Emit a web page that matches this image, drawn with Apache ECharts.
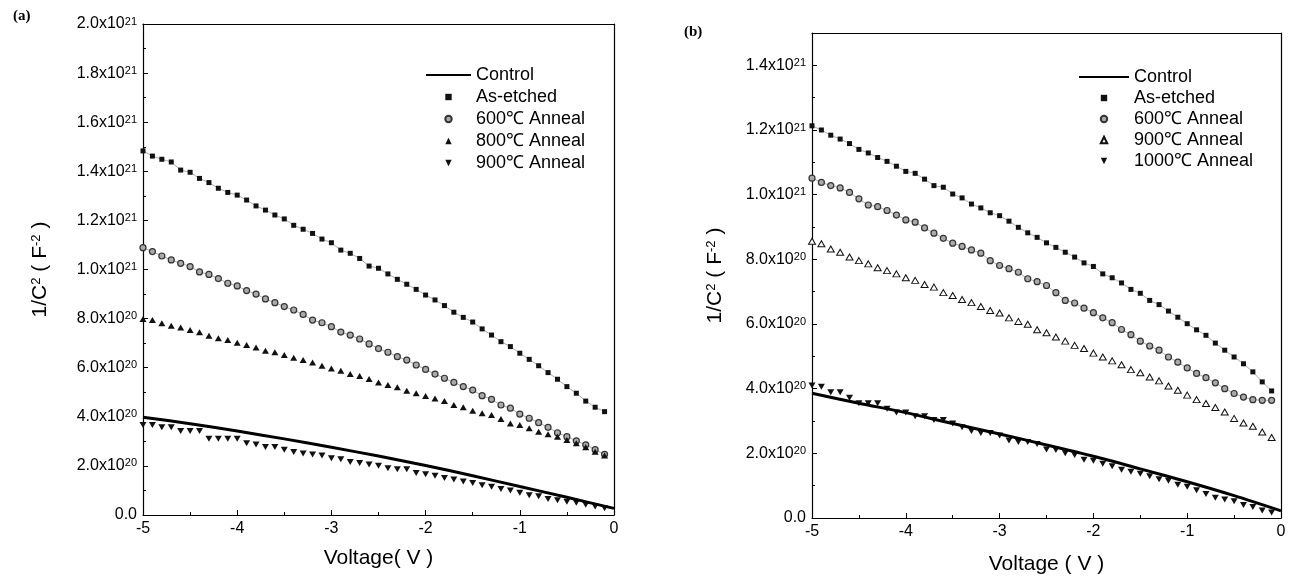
<!DOCTYPE html>
<html>
<head>
<meta charset="utf-8">
<script src="https://cdn.jsdelivr.net/npm/echarts@6/dist/echarts.min.js"></script>
<style>
  html, body { margin: 0; background: #fff; }
  #chart { width: 1290px; height: 580px; }
</style>
</head>
<body>
<div id="chart"></div>
<script>
const FONT = '"Liberation Sans", Arial, sans-serif';

// bias voltage of the measured points (V)
const voltage = [-5.0, -4.9, -4.8, -4.7, -4.6, -4.5, -4.4, -4.3, -4.2, -4.1,
  -4.0, -3.9, -3.8, -3.7, -3.6, -3.5, -3.4, -3.3, -3.2, -3.1,
  -3.0, -2.9, -2.8, -2.7, -2.6, -2.5, -2.4, -2.3, -2.2, -2.1,
  -2.0, -1.9, -1.8, -1.7, -1.6, -1.5, -1.4, -1.3, -1.2, -1.1,
  -1.0, -0.9, -0.8, -0.7, -0.6, -0.5, -0.4, -0.3, -0.2, -0.1];
// voltage of the control curve points (V)
const controlVoltage = [-5.0, -4.5, -4.0, -3.5, -3.0, -2.5, -2.0, -1.5, -1.0, -0.5, 0.0];

// all 1/C^2 values in units of 1e20 F^-2
// panel (a)
const aControl = [3.98, 3.72, 3.42, 3.10, 2.76, 2.40, 2.02, 1.60, 1.16, 0.72, 0.27];
const aAsEtched = [14.83, 14.62, 14.49, 14.38, 14.05, 13.96, 13.71, 13.54, 13.31, 13.14,
  13.03, 12.83, 12.59, 12.42, 12.22, 12.06, 11.80, 11.64, 11.47, 11.24,
  11.09, 10.79, 10.66, 10.45, 10.14, 10.05, 9.82, 9.60, 9.40, 9.19,
  8.96, 8.76, 8.53, 8.26, 8.05, 7.86, 7.58, 7.33, 7.06, 6.86,
  6.59, 6.34, 6.08, 5.80, 5.53, 5.23, 4.96, 4.64, 4.39, 4.21];
const a600 = [10.89, 10.73, 10.55, 10.39, 10.25, 10.12, 9.90, 9.80, 9.63, 9.44,
  9.33, 9.14, 9.00, 8.80, 8.65, 8.49, 8.35, 8.17, 7.94, 7.83,
  7.67, 7.45, 7.33, 7.17, 6.97, 6.78, 6.63, 6.45, 6.31, 6.11,
  5.93, 5.74, 5.57, 5.40, 5.23, 5.09, 4.86, 4.71, 4.48, 4.35,
  4.11, 3.94, 3.76, 3.57, 3.35, 3.19, 3.02, 2.86, 2.66, 2.47];
const a800 = [7.98, 7.94, 7.81, 7.71, 7.64, 7.54, 7.44, 7.30, 7.20, 7.13,
  7.02, 6.92, 6.82, 6.69, 6.63, 6.52, 6.41, 6.31, 6.21, 6.08,
  5.97, 5.88, 5.74, 5.66, 5.54, 5.40, 5.30, 5.20, 5.06, 4.96,
  4.85, 4.75, 4.64, 4.48, 4.39, 4.25, 4.14, 4.07, 3.91, 3.73,
  3.67, 3.53, 3.39, 3.29, 3.19, 3.06, 2.92, 2.76, 2.58, 2.42];
const a900 = [3.67, 3.67, 3.57, 3.57, 3.42, 3.42, 3.42, 3.11, 3.11, 3.11,
  3.11, 2.92, 2.87, 2.77, 2.77, 2.66, 2.57, 2.51, 2.46, 2.42,
  2.31, 2.27, 2.16, 2.12, 2.06, 2.01, 1.90, 1.86, 1.86, 1.71,
  1.66, 1.60, 1.51, 1.45, 1.36, 1.30, 1.21, 1.15, 1.06, 1.00,
  0.91, 0.80, 0.76, 0.65, 0.60, 0.54, 0.50, 0.42, 0.35, 0.27];

// panel (b)
const bControl = [3.86, 3.55, 3.26, 2.92, 2.60, 2.26, 1.91, 1.52, 1.12, 0.69, 0.22];
const bAsEtched = [12.13, 12.00, 11.84, 11.72, 11.58, 11.40, 11.29, 11.15, 11.03, 10.88,
  10.72, 10.66, 10.48, 10.28, 10.23, 10.02, 9.90, 9.71, 9.59, 9.44,
  9.35, 9.18, 8.99, 8.82, 8.68, 8.51, 8.37, 8.22, 8.07, 7.89,
  7.78, 7.55, 7.43, 7.27, 7.07, 6.95, 6.73, 6.60, 6.40, 6.21,
  6.01, 5.82, 5.65, 5.41, 5.19, 4.98, 4.77, 4.52, 4.21, 3.93];
const b600 = [10.51, 10.38, 10.28, 10.21, 10.07, 9.87, 9.68, 9.63, 9.51, 9.37,
  9.22, 9.15, 8.97, 8.81, 8.65, 8.50, 8.40, 8.29, 8.19, 7.96,
  7.81, 7.71, 7.60, 7.40, 7.31, 7.19, 6.97, 6.73, 6.65, 6.49,
  6.35, 6.19, 6.04, 5.83, 5.67, 5.47, 5.32, 5.19, 4.98, 4.82,
  4.64, 4.47, 4.34, 4.18, 4.00, 3.85, 3.74, 3.66, 3.64, 3.64];
const b900 = [8.56, 8.48, 8.32, 8.22, 8.07, 7.96, 7.86, 7.74, 7.65, 7.55,
  7.43, 7.35, 7.22, 7.14, 6.97, 6.88, 6.76, 6.66, 6.54, 6.42,
  6.34, 6.19, 6.08, 5.99, 5.82, 5.73, 5.60, 5.47, 5.34, 5.24,
  5.10, 4.98, 4.86, 4.74, 4.59, 4.49, 4.36, 4.24, 4.08, 3.95,
  3.80, 3.66, 3.54, 3.42, 3.28, 3.08, 2.94, 2.84, 2.66, 2.49];
const b1000 = [4.10, 4.06, 3.89, 3.89, 3.72, 3.55, 3.55, 3.55, 3.38, 3.26,
  3.26, 3.15, 3.15, 3.03, 3.03, 2.92, 2.81, 2.69, 2.63, 2.63,
  2.55, 2.40, 2.35, 2.35, 2.29, 2.12, 2.10, 2.00, 1.95, 1.80,
  1.77, 1.68, 1.60, 1.49, 1.43, 1.37, 1.29, 1.20, 1.15, 1.03,
  0.97, 0.86, 0.74, 0.63, 0.57, 0.52, 0.40, 0.34, 0.23, 0.17];

const pair = (xs, ys) => xs.map((x, i) => [x, ys[i]]);

function yLabel(v) {
  if (v === 0) return '0.0';
  if (v >= 10) return (v / 10).toFixed(1) + 'x10{sup|21}';
  return v.toFixed(1) + 'x10{sup|20}';
}

const supRich = { sup: { fontSize: 11, fontFamily: FONT, color: '#000', verticalAlign: 'top' } };

function xAxisFor(idx, gap, name) {
  return {
    type: 'value', gridIndex: idx, position: 'bottom', min: -5, max: 0, interval: 1,
    name: name, nameLocation: 'middle', nameGap: gap,
    nameTextStyle: { fontFamily: FONT, fontSize: 21, color: '#000' },
    axisLine: { onZero: false, lineStyle: { color: '#000', width: 1.2 } },
    axisTick: { inside: true, length: 5, lineStyle: { color: '#000' } },
    minorTick: { show: true, splitNumber: 2, length: 3, lineStyle: { color: '#000' } },
    splitLine: { show: false },
    axisLabel: { fontFamily: FONT, fontSize: 16, color: '#000', margin: 6, formatter: v => String(v) }
  };
}

function yAxisFor(idx, max, gap) {
  return {
    type: 'value', gridIndex: idx, position: 'left', min: 0, max: max, interval: 2,
    name: '1/C{sup|2} ( F{sup|-2} )', nameLocation: 'middle', nameRotate: 90, nameGap: gap,
    nameTextStyle: { fontFamily: FONT, fontSize: 21, color: '#000',
      rich: { sup: { fontSize: 13, fontFamily: FONT, color: '#000', verticalAlign: 'top' } } },
    axisLine: { onZero: false, lineStyle: { color: '#000', width: 1.2 } },
    axisTick: { inside: true, length: 5, lineStyle: { color: '#000' } },
    minorTick: { show: true, splitNumber: 2, length: 3, lineStyle: { color: '#000' } },
    splitLine: { show: false },
    axisLabel: { fontFamily: FONT, fontSize: 16, color: '#000', margin: 6,
      showMaxLabel: max === 20, formatter: yLabel, rich: supRich }
  };
}

// plain frame lines on the top and right of each panel
function frameX(idx) {
  return { type: 'value', gridIndex: idx, position: 'top', min: -5, max: 0,
    axisLine: { onZero: false, lineStyle: { color: '#000', width: 1.2 } },
    axisTick: { show: false }, axisLabel: { show: false }, splitLine: { show: false } };
}
function frameY(idx, max) {
  return { type: 'value', gridIndex: idx, position: 'right', min: 0, max: max,
    axisLine: { show: true, onZero: false, lineStyle: { color: '#000', width: 1.2 } },
    axisTick: { show: false }, axisLabel: { show: false }, splitLine: { show: false } };
}

function markerSeries(name, axis, data, symbol, size, style, thinLine) {
  return {
    name: name, type: 'line', xAxisIndex: axis, yAxisIndex: axis,
    data: data, symbol: symbol, symbolSize: size, showSymbol: true,
    symbolRotate: style.down ? 180 : 0,
    itemStyle: style.item,
    lineStyle: thinLine ? { color: '#888', width: 0.7 } : { width: 0, opacity: 0 },
    clip: false, silent: true, z: 3
  };
}

const filled = { item: { color: '#111' } };
const grayCircle = { item: { color: '#aaa', borderColor: '#333', borderWidth: 1.2 } };
const downFilled = { item: { color: '#111' }, down: true };
const openTri = { item: { color: '#fff', borderColor: '#111', borderWidth: 1 } };

function controlSeries(name, axis, data) {
  return {
    name: name, type: 'line', xAxisIndex: axis, yAxisIndex: axis, data: data,
    symbol: 'none', smooth: 0.3, lineStyle: { color: '#000', width: 3 },
    itemStyle: { color: '#000' }, clip: false, silent: true, z: 4
  };
}

function legendFor(prefix, names, left, top, gap, width) {
  return {
    orient: 'vertical', left: left, top: top, itemWidth: width, itemHeight: 8, itemGap: gap,
    selectedMode: false,
    data: names.map((n, i) => i === 0
      ? { name: prefix + n, itemStyle: { opacity: 0 } }
      : { name: prefix + n, lineStyle: { opacity: 0 } }),
    formatter: n => n.slice(2),
    textStyle: { fontFamily: FONT, fontSize: 18, color: '#000' }
  };
}

const chart = echarts.init(document.getElementById('chart'), null, { renderer: 'canvas' });
chart.setOption({
  animation: false,
  backgroundColor: '#fff',
  title: [
    { text: '(a)', left: 8, top: 4, textStyle: { fontFamily: '"Liberation Serif", serif', fontWeight: 'bold', fontSize: 15, color: '#000' } },
    { text: '(b)', left: 679, top: 20, textStyle: { fontFamily: '"Liberation Serif", serif', fontWeight: 'bold', fontSize: 15, color: '#000' } }
  ],
  grid: [
    { left: 143, top: 24, width: 471, height: 491, show: false },
    { left: 812, top: 33, width: 469, height: 486, show: false }
  ],
  xAxis: [xAxisFor(0, 33, 'Voltage( V )'), xAxisFor(1, 36, 'Voltage ( V )'), frameX(0), frameX(1)],
  yAxis: [yAxisFor(0, 20, 92), yAxisFor(1, 15, 86), frameY(0, 20), frameY(1, 15)],
  legend: [
    legendFor('a:', ['Control', 'As-etched', '600℃ Anneal', '800℃ Anneal', '900℃ Anneal'], 420, 61, 4, 45),
    legendFor('b:', ['Control', 'As-etched', '600℃ Anneal', '900℃ Anneal', '1000℃ Anneal'], 1073, 63, 3, 50)
  ],
  series: [
    controlSeries('a:Control', 0, pair(controlVoltage, aControl)),
    markerSeries('a:As-etched', 0, pair(voltage, aAsEtched), 'rect', 5, filled, true),
    markerSeries('a:600℃ Anneal', 0, pair(voltage, a600), 'circle', 6, grayCircle, true),
    markerSeries('a:800℃ Anneal', 0, pair(voltage, a800), 'triangle', [7, 6], filled, false),
    markerSeries('a:900℃ Anneal', 0, pair(voltage, a900), 'triangle', [7, 6], downFilled, false),
    controlSeries('b:Control', 1, pair(controlVoltage, bControl)),
    markerSeries('b:As-etched', 1, pair(voltage, bAsEtched), 'rect', 5, filled, true),
    markerSeries('b:600℃ Anneal', 1, pair(voltage, b600), 'circle', 6, grayCircle, true),
    markerSeries('b:900℃ Anneal', 1, pair(voltage, b900), 'triangle', [7, 6], openTri, false),
    markerSeries('b:1000℃ Anneal', 1, pair(voltage, b1000), 'triangle', [7, 6], downFilled, false)
  ]
});
</script>
</body>
</html>
